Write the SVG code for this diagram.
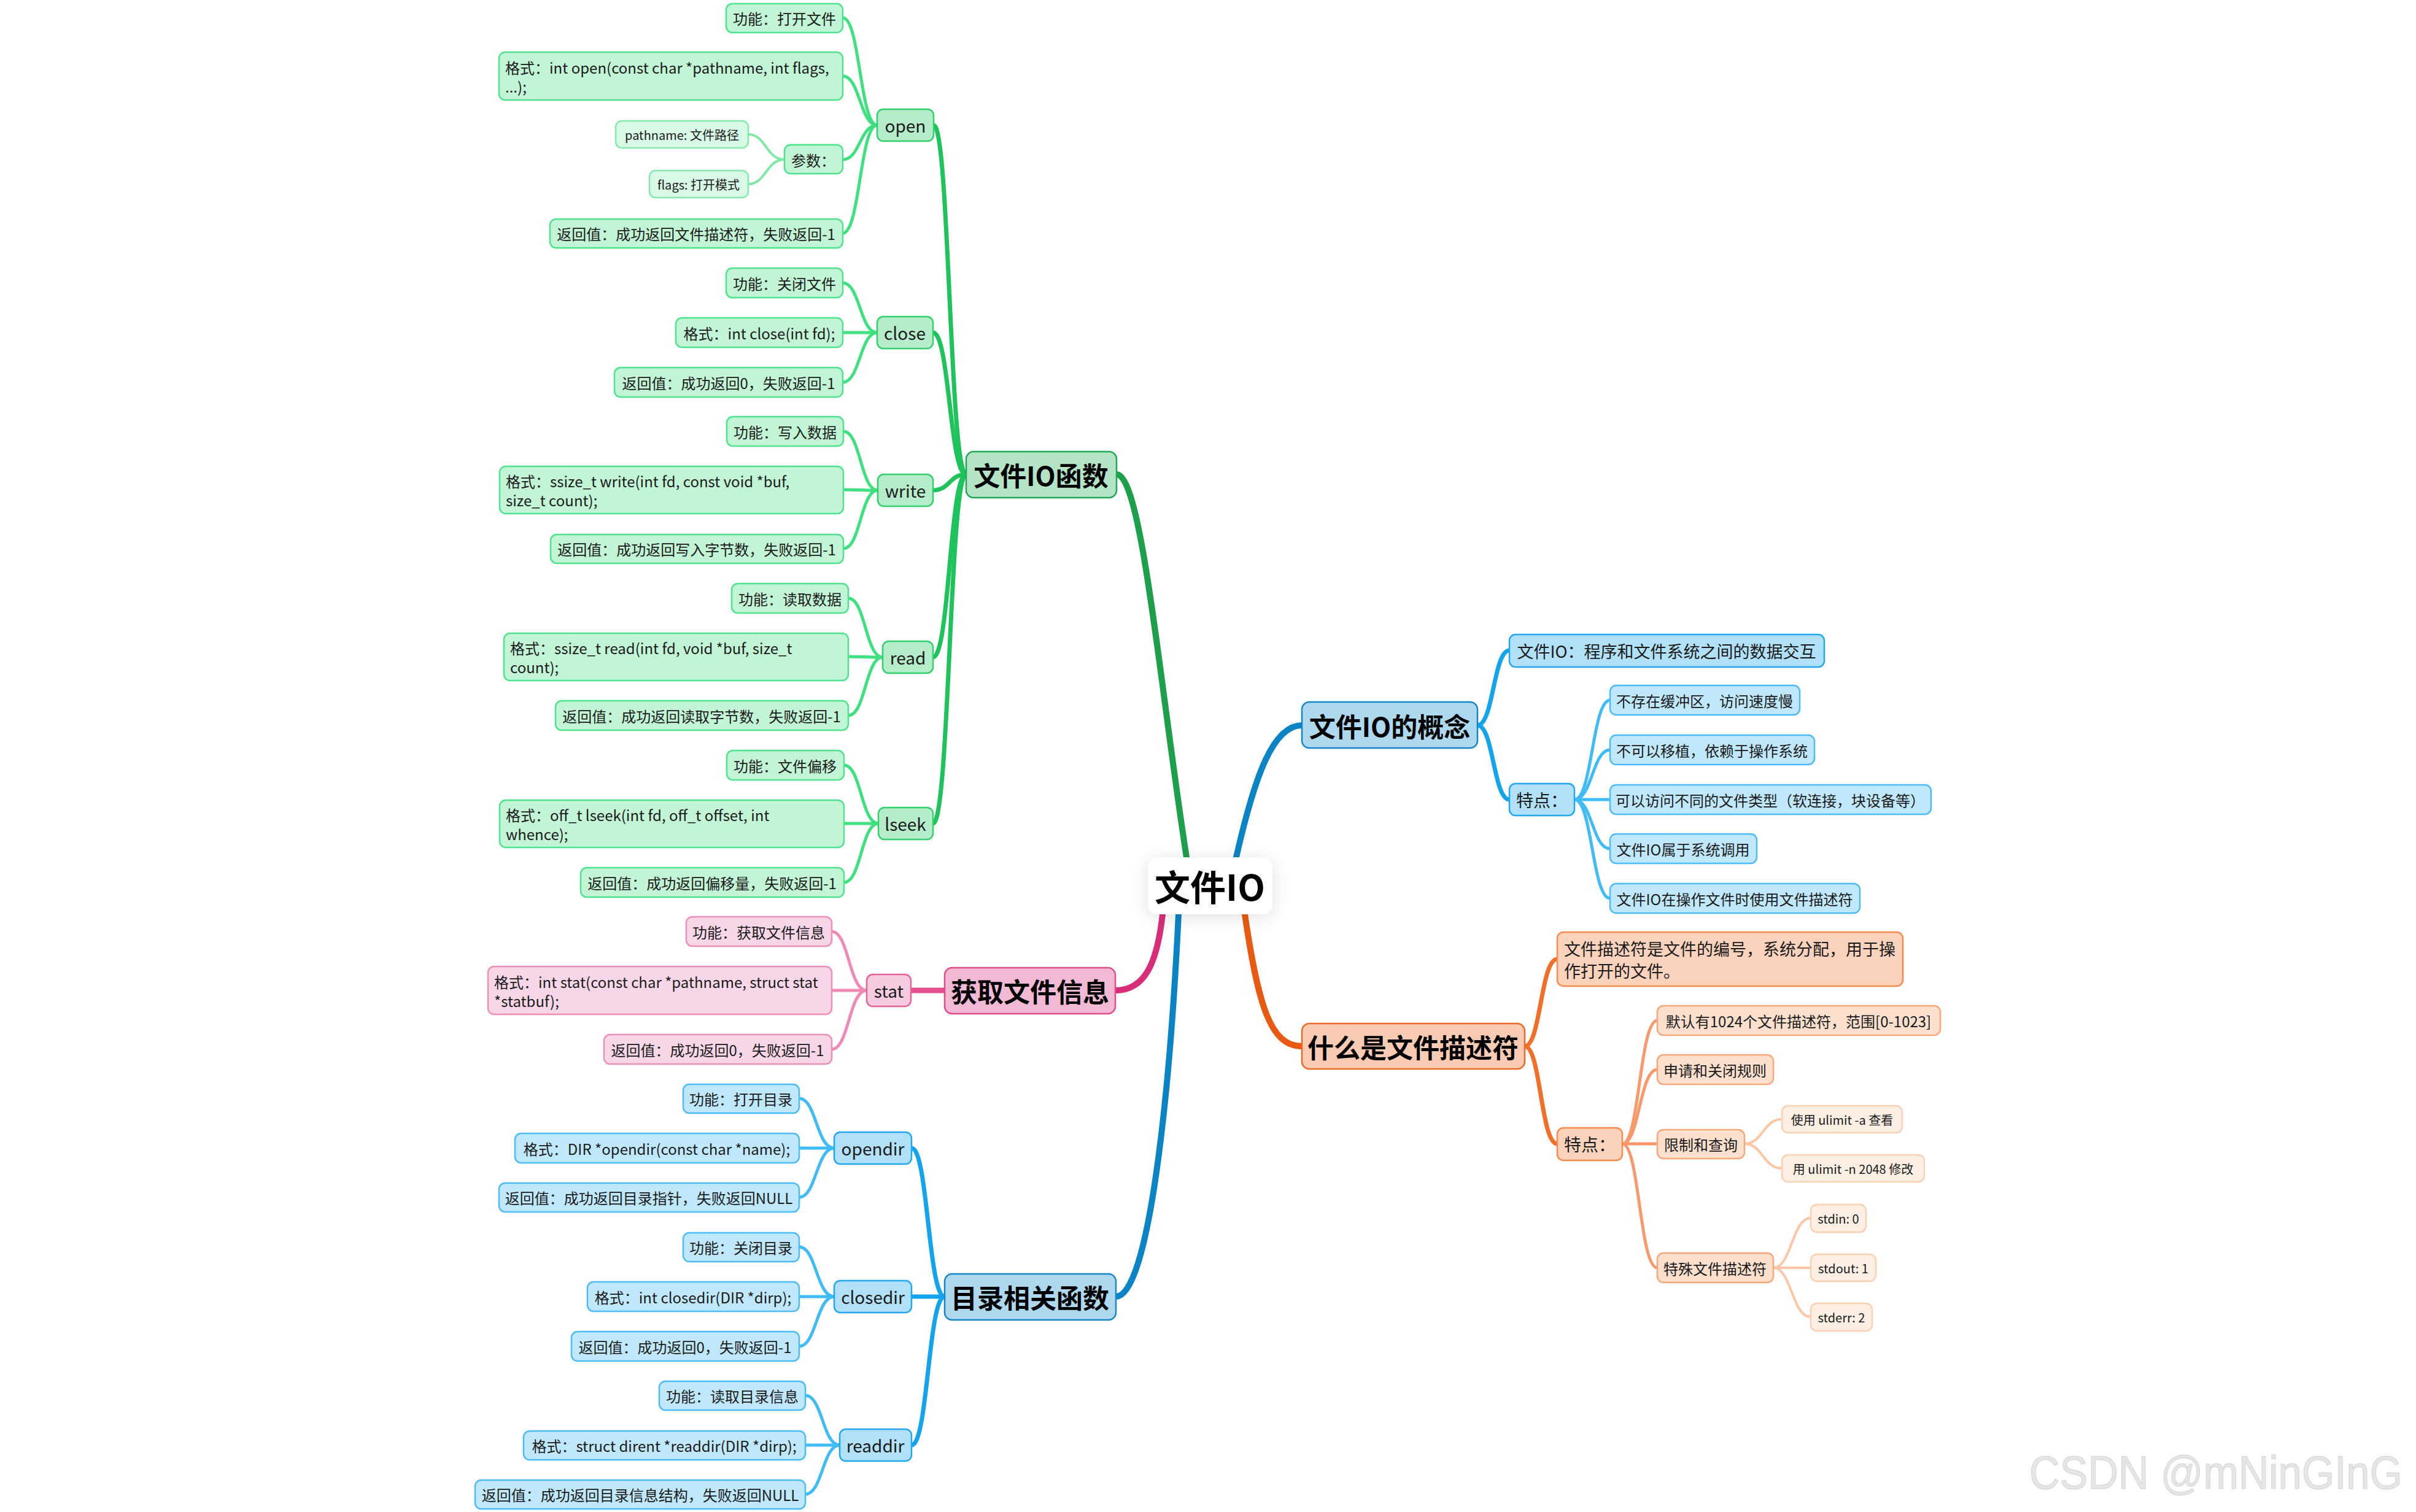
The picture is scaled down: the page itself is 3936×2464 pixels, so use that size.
<svg xmlns="http://www.w3.org/2000/svg" width="3936" height="2464" viewBox="0 0 3936 2464">
<style>
text{font-family:"Noto Sans CJK SC","Noto Sans",sans-serif;fill:#1a1a1a;dominant-baseline:central}
.c{text-anchor:middle}
.f20{font-size:20px}.f24{font-size:24px}.f28{font-size:28px}.f27{font-size:27px}.f44{font-size:43px;font-weight:700;fill:#000}
rect{stroke-width:2.5}
.g1{fill:#b3e4c6;stroke:#1fa855}.g2{fill:#b5ecca;stroke:#33d06e}.g3{fill:#c1f5d5;stroke:#4fe38d}.g4{fill:#d8f9e5;stroke:#86eaad}
.p1{fill:#f2b9d4;stroke:#de4d8b}.p2{fill:#f6cadf;stroke:#e5649c}.p3{fill:#f7d7e7;stroke:#ee8fb9}
.b1{fill:#aed8ee;stroke:#1787c6}.b2{fill:#b1e1f8;stroke:#23a7ee}.b3{fill:#c0e8fc;stroke:#4dbcf6}
.o1{fill:#f8cbb2;stroke:#ec6a26}.o2{fill:#fbd3bd;stroke:#f38c4e}.o3{fill:#fcdfcd;stroke:#f8a77a}.o4{fill:#fdefe4;stroke:#fcd0b3}
#connectors path{fill:none;stroke-linecap:round}
.cg1{stroke:#1e9f4c;stroke-width:10}.cg2{stroke:#1fc35b;stroke-width:7}.cg3{stroke:#3fe07f;stroke-width:5}.cg4{stroke:#80e9a8;stroke-width:4}
.cp1{stroke:#d82e7a;stroke-width:10}.cp2{stroke:#e2508f;stroke-width:9}.cp3{stroke:#ef89b6;stroke-width:5}
.cb1{stroke:#0b84c6;stroke-width:10}.cb2{stroke:#13a4ec;stroke-width:7}.cb3{stroke:#3fbbf6;stroke-width:5}
.co1{stroke:#e85a12;stroke-width:10}.co2{stroke:#f26f2a;stroke-width:7}.co3{stroke:#f8996c;stroke-width:5}.co4{stroke:#fbc6a5;stroke-width:4}
.wm{font-family:"Liberation Sans",Arial,sans-serif;font-size:76px;fill:#e6e6e6;stroke:#d2d2d2;stroke-width:1;dominant-baseline:alphabetic}
</style>
<defs>
<filter id="sh" x="-30%" y="-30%" width="160%" height="160%"><feDropShadow dx="0" dy="4" stdDeviation="14" flood-color="#000" flood-opacity="0.12"/></filter>
</defs>
<rect x="0" y="0" width="3936" height="2464" fill="#fff" style="stroke:none"/>
<g id="connectors">
<path class="cg1" d="M1933 1397 C1889 1113 1860 773 1819 773"/>
<path class="cb1" d="M2014 1397 C2045 1260 2075 1182 2121 1182"/>
<path class="co1" d="M2028 1490 C2050 1640 2070 1705 2121 1705"/>
<path class="cp1" d="M1894 1490 C1885 1570 1865 1614 1817 1614"/>
<path class="cb1" d="M1920 1490 C1905 1800 1870 2113 1818 2113"/>
<path class="cg2" d="M1574 773 C1547 773 1547 204 1521 204"/>
<path class="cg2" d="M1574 773 C1547 773 1547 542 1520 542"/>
<path class="cg2" d="M1574 773 C1547 773 1547 799 1520 799"/>
<path class="cg2" d="M1574 773 C1547 773 1547 1071 1520 1071"/>
<path class="cg2" d="M1574 773 C1547 773 1547 1342 1520 1342"/>
<path class="cg3" d="M1429 204 C1401 204 1401 29 1373 29"/>
<path class="cg3" d="M1429 204 C1401 204 1401 124 1373 124"/>
<path class="cg3" d="M1429 204 C1401 204 1401 260 1373 260"/>
<path class="cg3" d="M1429 204 C1401 204 1401 380 1373 380"/>
<path class="cg4" d="M1278 260 C1248 260 1248 219 1219 219"/>
<path class="cg4" d="M1278 260 C1248 260 1248 300 1219 300"/>
<path class="cg3" d="M1429 542 C1401 542 1401 461 1373 461"/>
<path class="cg3" d="M1429 542 C1401 542 1401 542 1373 542"/>
<path class="cg3" d="M1429 542 C1401 542 1401 623 1373 623"/>
<path class="cg3" d="M1430 799 C1402 799 1402 703 1374 703"/>
<path class="cg3" d="M1430 799 C1402 799 1402 798 1374 798"/>
<path class="cg3" d="M1430 799 C1402 799 1402 894 1374 894"/>
<path class="cg3" d="M1438 1071 C1410 1071 1410 975 1382 975"/>
<path class="cg3" d="M1438 1071 C1410 1071 1410 1070 1382 1070"/>
<path class="cg3" d="M1438 1071 C1410 1071 1410 1166 1382 1166"/>
<path class="cg3" d="M1431 1342 C1403 1342 1403 1247 1375 1247"/>
<path class="cg3" d="M1431 1342 C1403 1342 1403 1342 1375 1342"/>
<path class="cg3" d="M1431 1342 C1403 1342 1403 1438 1375 1438"/>
<path class="cp2" d="M1539 1614 L1484 1614"/>
<path class="cp3" d="M1412 1614 C1383 1614 1383 1518 1355 1518"/>
<path class="cp3" d="M1412 1614 C1383 1614 1383 1614 1355 1614"/>
<path class="cp3" d="M1412 1614 C1383 1614 1383 1710 1355 1710"/>
<path class="cb2" d="M1539 2113 C1512 2113 1512 1871 1485 1871"/>
<path class="cb2" d="M1539 2113 C1512 2113 1512 2113 1485 2113"/>
<path class="cb2" d="M1539 2113 C1512 2113 1512 2355 1485 2355"/>
<path class="cb3" d="M1359 1871 C1330 1871 1330 1790 1302 1790"/>
<path class="cb3" d="M1359 1871 C1330 1871 1330 1871 1302 1871"/>
<path class="cb3" d="M1359 1871 C1330 1871 1330 1951 1302 1951"/>
<path class="cb3" d="M1359 2113 C1330 2113 1330 2032 1302 2032"/>
<path class="cb3" d="M1359 2113 C1330 2113 1330 2113 1302 2113"/>
<path class="cb3" d="M1359 2113 C1330 2113 1330 2194 1302 2194"/>
<path class="cb3" d="M1368 2355 C1340 2355 1340 2274 1312 2274"/>
<path class="cb3" d="M1368 2355 C1340 2355 1340 2355 1312 2355"/>
<path class="cb3" d="M1368 2355 C1340 2355 1340 2435 1312 2435"/>
<path class="cb2" d="M2407 1182 C2433 1182 2433 1060 2459 1060"/>
<path class="cb2" d="M2407 1182 C2433 1182 2433 1303 2459 1303"/>
<path class="cb3" d="M2565 1303 C2594 1303 2594 1141 2623 1141"/>
<path class="cb3" d="M2565 1303 C2594 1303 2594 1222 2623 1222"/>
<path class="cb3" d="M2565 1303 C2594 1303 2594 1303 2623 1303"/>
<path class="cb3" d="M2565 1303 C2594 1303 2594 1383 2623 1383"/>
<path class="cb3" d="M2565 1303 C2594 1303 2594 1464 2623 1464"/>
<path class="co2" d="M2484 1705 C2510 1705 2510 1563 2537 1563"/>
<path class="co2" d="M2484 1705 C2510 1705 2510 1864 2537 1864"/>
<path class="co3" d="M2643 1864 C2671 1864 2671 1663 2700 1663"/>
<path class="co3" d="M2643 1864 C2671 1864 2671 1743 2700 1743"/>
<path class="co3" d="M2643 1864 C2671 1864 2671 1864 2700 1864"/>
<path class="co3" d="M2643 1864 C2671 1864 2671 2066 2700 2066"/>
<path class="co4" d="M2842 1864 C2872 1864 2872 1824 2903 1824"/>
<path class="co4" d="M2842 1864 C2872 1864 2872 1904 2903 1904"/>
<path class="co4" d="M2889 2066 C2919 2066 2919 1985 2950 1985"/>
<path class="co4" d="M2889 2066 C2919 2066 2919 2066 2950 2066"/>
<path class="co4" d="M2889 2066 C2919 2066 2919 2146 2950 2146"/>
</g>

<g id="root"><rect x="1870" y="1397" width="203" height="93" rx="16" fill="#fff" style="stroke:none" filter="url(#sh)"/><text class="c" x="1971" y="1443" style="font-size:58px;font-weight:700;fill:#000">文件IO</text></g>

<g id="n-fileio-func"><rect class="g1" x="1574" y="736" width="245" height="75" rx="12"/><text class="c f44" x="1696" y="773">文件IO函数</text></g>
<g id="n-open"><rect class="g2" x="1429" y="178" width="92" height="52" rx="10"/><text class="c f28" x="1475" y="204">open</text></g>
<g id="n-open-func"><rect class="g3" x="1183" y="6" width="190" height="47" rx="10"/><text class="c f24" x="1278" y="29">功能：打开文件</text></g>
<g id="n-open-fmt"><rect class="g3" x="813" y="85" width="560" height="78" rx="10"/><text class="f24" x="823" y="109"><tspan x="823" y="109">格式：int open(const char *pathname, int flags,</tspan><tspan x="823" y="140">...);</tspan></text></g>
<g id="n-open-param"><rect class="g3" x="1278" y="236" width="95" height="47" rx="10"/><text class="c f24" x="1325" y="260">参数：</text></g>
<g id="n-open-pathname"><rect class="g4" x="1003" y="197" width="216" height="44" rx="10"/><text class="c f20" x="1111" y="219">pathname: 文件路径</text></g>
<g id="n-open-flags"><rect class="g4" x="1058" y="278" width="161" height="44" rx="10"/><text class="c f20" x="1138" y="300">flags: 打开模式</text></g>
<g id="n-open-ret"><rect class="g3" x="896" y="357" width="477" height="47" rx="10"/><text class="c f24" x="1134" y="380">返回值：成功返回文件描述符，失败返回-1</text></g>

<g id="n-close"><rect class="g2" x="1429" y="516" width="91" height="52" rx="10"/><text class="c f28" x="1474" y="542">close</text></g>
<g id="n-close-func"><rect class="g3" x="1183" y="437" width="190" height="48" rx="10"/><text class="c f24" x="1278" y="461">功能：关闭文件</text></g>
<g id="n-close-fmt"><rect class="g3" x="1101" y="518" width="272" height="48" rx="10"/><text class="c f24" x="1237" y="542">格式：int close(int fd);</text></g>
<g id="n-close-ret"><rect class="g3" x="1001" y="599" width="372" height="48" rx="10"/><text class="c f24" x="1187" y="623">返回值：成功返回0，失败返回-1</text></g>

<g id="n-write"><rect class="g2" x="1430" y="773" width="90" height="52" rx="10"/><text class="c f28" x="1475" y="799">write</text></g>
<g id="n-write-func"><rect class="g3" x="1184" y="679" width="190" height="48" rx="10"/><text class="c f24" x="1279" y="703">功能：写入数据</text></g>
<g id="n-write-fmt"><rect class="g3" x="814" y="760" width="560" height="77" rx="10"/><text class="f24"><tspan x="824" y="783">格式：ssize_t write(int fd, const void *buf,</tspan><tspan x="824" y="814">size_t count);</tspan></text></g>
<g id="n-write-ret"><rect class="g3" x="897" y="871" width="477" height="47" rx="10"/><text class="c f24" x="1135" y="894">返回值：成功返回写入字节数，失败返回-1</text></g>

<g id="n-read"><rect class="g2" x="1438" y="1045" width="82" height="52" rx="10"/><text class="c f28" x="1479" y="1071">read</text></g>
<g id="n-read-func"><rect class="g3" x="1192" y="951" width="190" height="48" rx="10"/><text class="c f24" x="1287" y="975">功能：读取数据</text></g>
<g id="n-read-fmt"><rect class="g3" x="821" y="1032" width="561" height="77" rx="10"/><text class="f24"><tspan x="831" y="1055">格式：ssize_t read(int fd, void *buf, size_t</tspan><tspan x="831" y="1086">count);</tspan></text></g>
<g id="n-read-ret"><rect class="g3" x="905" y="1142" width="477" height="48" rx="10"/><text class="c f24" x="1143" y="1166">返回值：成功返回读取字节数，失败返回-1</text></g>

<g id="n-lseek"><rect class="g2" x="1431" y="1316" width="89" height="52" rx="10"/><text class="c f28" x="1475" y="1342">lseek</text></g>
<g id="n-lseek-func"><rect class="g3" x="1184" y="1223" width="191" height="48" rx="10"/><text class="c f24" x="1279" y="1247">功能：文件偏移</text></g>
<g id="n-lseek-fmt"><rect class="g3" x="814" y="1304" width="561" height="77" rx="10"/><text class="f24"><tspan x="824" y="1327">格式：off_t lseek(int fd, off_t offset, int</tspan><tspan x="824" y="1358">whence);</tspan></text></g>
<g id="n-lseek-ret"><rect class="g3" x="946" y="1414" width="429" height="48" rx="10"/><text class="c f24" x="1160" y="1438">返回值：成功返回偏移量，失败返回-1</text></g>

<g id="n-stat-info"><rect class="p1" x="1539" y="1577" width="278" height="75" rx="12"/><text class="c f44" x="1678" y="1614">获取文件信息</text></g>
<g id="n-stat"><rect class="p2" x="1412" y="1588" width="72" height="52" rx="10"/><text class="c f28" x="1448" y="1614">stat</text></g>
<g id="n-stat-func"><rect class="p3" x="1118" y="1494" width="237" height="48" rx="10"/><text class="c f24" x="1236" y="1518">功能：获取文件信息</text></g>
<g id="n-stat-fmt"><rect class="p3" x="795" y="1575" width="560" height="78" rx="10"/><text class="f24"><tspan x="805" y="1599">格式：int stat(const char *pathname, struct stat</tspan><tspan x="805" y="1630">*statbuf);</tspan></text></g>
<g id="n-stat-ret"><rect class="p3" x="984" y="1686" width="371" height="48" rx="10"/><text class="c f24" x="1169" y="1710">返回值：成功返回0，失败返回-1</text></g>

<g id="n-dir"><rect class="b1" x="1539" y="2076" width="279" height="75" rx="12"/><text class="c f44" x="1678" y="2113">目录相关函数</text></g>
<g id="n-opendir"><rect class="b2" x="1359" y="1845" width="126" height="52" rx="10"/><text class="c f28" x="1422" y="1871">opendir</text></g>
<g id="n-opendir-func"><rect class="b3" x="1113" y="1767" width="189" height="47" rx="10"/><text class="c f24" x="1207" y="1790">功能：打开目录</text></g>
<g id="n-opendir-fmt"><rect class="b3" x="839" y="1847" width="463" height="48" rx="10"/><text class="c f24" x="1070" y="1871">格式：DIR *opendir(const char *name);</text></g>
<g id="n-opendir-ret"><rect class="b3" x="813" y="1928" width="489" height="47" rx="10"/><text class="c f24" x="1057" y="1951">返回值：成功返回目录指针，失败返回NULL</text></g>
<g id="n-closedir"><rect class="b2" x="1359" y="2087" width="126" height="52" rx="10"/><text class="c f28" x="1422" y="2113">closedir</text></g>
<g id="n-closedir-func"><rect class="b3" x="1113" y="2009" width="189" height="47" rx="10"/><text class="c f24" x="1207" y="2032">功能：关闭目录</text></g>
<g id="n-closedir-fmt"><rect class="b3" x="957" y="2089" width="345" height="48" rx="10"/><text class="c f24" x="1129" y="2113">格式：int closedir(DIR *dirp);</text></g>
<g id="n-closedir-ret"><rect class="b3" x="931" y="2170" width="371" height="48" rx="10"/><text class="c f24" x="1116" y="2194">返回值：成功返回0，失败返回-1</text></g>
<g id="n-readdir"><rect class="b2" x="1368" y="2329" width="117" height="52" rx="10"/><text class="c f28" x="1426" y="2355">readdir</text></g>
<g id="n-readdir-func"><rect class="b3" x="1074" y="2251" width="238" height="47" rx="10"/><text class="c f24" x="1193" y="2274">功能：读取目录信息</text></g>
<g id="n-readdir-fmt"><rect class="b3" x="853" y="2332" width="459" height="47" rx="10"/><text class="c f24" x="1082" y="2355">格式：struct dirent *readdir(DIR *dirp);</text></g>
<g id="n-readdir-ret"><rect class="b3" x="774" y="2412" width="538" height="47" rx="10"/><text class="c f24" x="1043" y="2435">返回值：成功返回目录信息结构，失败返回NULL</text></g>

<g id="n-concept"><rect class="b1" x="2121" y="1144" width="286" height="75" rx="12"/><text class="c f44" x="2264" y="1182">文件IO的概念</text></g>
<g id="n-concept-def"><rect class="b2" x="2459" y="1034" width="513" height="53" rx="10"/><text class="c f27" x="2715" y="1060">文件IO：程序和文件系统之间的数据交互</text></g>
<g id="n-concept-feat"><rect class="b2" x="2459" y="1277" width="106" height="52" rx="10"/><text class="c f28" x="2512" y="1303">特点：</text></g>
<g id="n-cf1"><rect class="b3" x="2623" y="1117" width="309" height="48" rx="10"/><text class="c f24" x="2777" y="1141">不存在缓冲区，访问速度慢</text></g>
<g id="n-cf2"><rect class="b3" x="2623" y="1198" width="333" height="48" rx="10"/><text class="c f24" x="2789" y="1222">不可以移植，依赖于操作系统</text></g>
<g id="n-cf3"><rect class="b3" x="2623" y="1279" width="523" height="48" rx="10"/><text class="c f24" x="2884" y="1303">可以访问不同的文件类型（软连接，块设备等）</text></g>
<g id="n-cf4"><rect class="b3" x="2623" y="1359" width="239" height="48" rx="10"/><text class="c f24" x="2742" y="1383">文件IO属于系统调用</text></g>
<g id="n-cf5"><rect class="b3" x="2623" y="1440" width="407" height="48" rx="10"/><text class="c f24" x="2826" y="1464">文件IO在操作文件时使用文件描述符</text></g>

<g id="n-fd"><rect class="o1" x="2121" y="1668" width="363" height="74" rx="12"/><text class="c f44" x="2302" y="1705">什么是文件描述符</text></g>
<g id="n-fd-def"><rect class="o2" x="2537" y="1519" width="563" height="88" rx="10"/><text class="f27"><tspan x="2548" y="1545">文件描述符是文件的编号，系统分配，用于操</tspan><tspan x="2548" y="1581">作打开的文件。</tspan></text></g>
<g id="n-fd-feat"><rect class="o2" x="2537" y="1838" width="106" height="53" rx="10"/><text class="c f28" x="2590" y="1864">特点：</text></g>
<g id="n-ff1"><rect class="o3" x="2700" y="1639" width="461" height="48" rx="10"/><text class="c f24" x="2930" y="1663">默认有1024个文件描述符，范围[0-1023]</text></g>
<g id="n-ff2"><rect class="o3" x="2700" y="1719" width="189" height="48" rx="10"/><text class="c f24" x="2794" y="1743">申请和关闭规则</text></g>
<g id="n-ff3"><rect class="o3" x="2700" y="1841" width="142" height="47" rx="10"/><text class="c f24" x="2771" y="1864">限制和查询</text></g>
<g id="n-ff3a"><rect class="o4" x="2903" y="1802" width="196" height="44" rx="10"/><text class="c f20" x="3001" y="1824">使用 ulimit -a 查看</text></g>
<g id="n-ff3b"><rect class="o4" x="2903" y="1882" width="232" height="44" rx="10"/><text class="c f20" x="3019" y="1904">用 ulimit -n 2048 修改</text></g>
<g id="n-ff4"><rect class="o3" x="2700" y="2042" width="189" height="48" rx="10"/><text class="c f24" x="2794" y="2066">特殊文件描述符</text></g>
<g id="n-stdin"><rect class="o4" x="2950" y="1963" width="90" height="45" rx="10"/><text class="c f20" x="2995" y="1985">stdin: 0</text></g>
<g id="n-stdout"><rect class="o4" x="2950" y="2044" width="106" height="44" rx="10"/><text class="c f20" x="3003" y="2066">stdout: 1</text></g>
<g id="n-stderr"><rect class="o4" x="2950" y="2124" width="100" height="45" rx="10"/><text class="c f20" x="3000" y="2146">stderr: 2</text></g>

<text class="wm" x="3306" y="2426" textLength="608" lengthAdjust="spacingAndGlyphs">CSDN @mNinGInG</text>
</svg>
